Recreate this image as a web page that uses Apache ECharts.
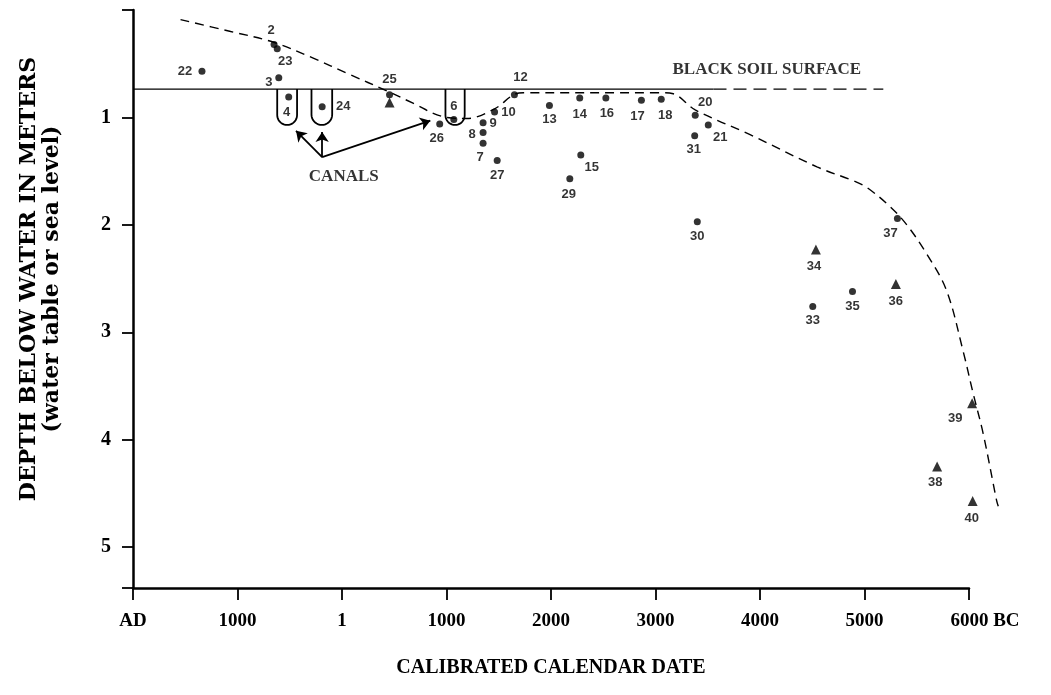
<!DOCTYPE html>
<html>
<head>
<meta charset="utf-8">
<script src="https://cdn.jsdelivr.net/npm/echarts@6/dist/echarts.min.js"></script>
<style>html,body{margin:0;padding:0;background:#fff}#c{width:1051px;height:695px}</style>
</head>
<body>
<div id="c"></div>
<script>
// ---- data ----
var xTicks = [-2000, -1000, 0, 1000, 2000, 3000, 4000, 5000, 6000];
var xTickLabels = ['AD', '1000', '1', '1000', '2000', '3000', '4000', '5000', '6000 BC'];
var yTickLabels = ['', '1', '2', '3', '4', '5'];

var circleIds = ['22','2','23','3','4','24','25','26','6','9','8','7','10','27','12','13','14','15','29','16','17','18','20','21','31','30','37','35','33'];
var circleX   = [-1340,-650,-620,-605,-510,-190,455,935,1070,1350,1350,1350,1460,1485,1650,1985,2275,2285,2180,2525,2865,3055,3380,3505,3375,3400,5315,4885,4505];
var circleY   = [0.57,0.32,0.36,0.63,0.81,0.90,0.79,1.06,1.02,1.05,1.14,1.24,0.95,1.40,0.79,0.89,0.82,1.35,1.57,0.82,0.84,0.83,0.98,1.07,1.17,1.97,1.94,2.62,2.76];

var triIds = ['25','34','36','39','38','40'];
var triX   = [455,4535,5300,6030,5695,6035];
var triY   = [0.86,2.23,2.55,3.66,4.25,4.57];

var curveX = [-1545,-1065,-655,-270,50,445,685,955,1195,1460,1640,1735,3045,3170,3380,3905,4545,4895,5020,5245,5405,5595,5785,5945,6040,6135,6265,6280];
var curveY = [0.09,0.20,0.30,0.45,0.59,0.76,0.87,0.99,1.01,0.92,0.79,0.77,0.77,0.78,0.93,1.16,1.46,1.59,1.65,1.83,2.00,2.27,2.61,3.18,3.57,3.94,4.57,4.62];

var surfaceDepth = 0.736;
var surfaceSolid = [-2000, 3555];
var surfaceDashed = [3555, 5180];

var canalLeft = [-620, -292, 990];
var canalRight = [-430, -94, 1174];
var canalBottom = 1.07;

var arrowFrom = [-190, 1.37];
var arrowTo = [[-440, 1.125], [-190, 1.135], [845, 1.03]];

var canalsText = {text: 'CANALS', x: 17, y: 1.553};
var surfaceText = {text: 'BLACK SOIL SURFACE', x: 4065, y: 0.553};

// ---- layout ----
var W = 1051, GL = 133, GR = 82, GT = 10, GB = 107;
var xMin = -2000, xMax = 6000, xMaxWide = 6400, yMax = 5.38;
var plotW = W - GL - GR;
var wideRight = W - GL - plotW * (xMaxWide - xMin) / (xMax - xMin);

var labelOffset = {
  '22':[-17,0],'2':[-3,-14],'23':[8,13],'3':[-10,5],'4':[-2,15],'24':[21,0],'25':[0,-15],
  '26':[-3,15],'6':[0,-13],'9':[10,1],'8':[-11,2],'7':[-3,14],'10':[14,0],'27':[0,15],
  '12':[6,-17],'13':[0,14],'14':[0,16],'15':[11,12],'29':[-1,16],'16':[1,15],'17':[-4,16],
  '18':[4,16],'20':[10,-13],'21':[12,12],'31':[-1,14],'30':[0,15],'37':[-7,15],'35':[0,15],'33':[0,14],
  't34':[-2,17],'t36':[0,17],'t39':[-17,15],'t38':[-2,16],'t40':[-1,17]
};

var serif = "'Liberation Serif','Times New Roman',serif";
var titleSerif = "'DejaVu Serif','Liberation Serif',serif";
var sans = "'Liberation Sans',Arial,sans-serif";

var circleData = circleIds.map(function (id, i) {
  return {name: id, value: [circleX[i], circleY[i]], label: {offset: labelOffset[id]}};
});
var triData = triIds.map(function (id, i) {
  var off = labelOffset['t' + id];
  return {name: id, value: [triX[i], triY[i]], label: off ? {offset: off} : {show: false}};
});
var curveData = curveX.map(function (x, i) { return [x, curveY[i]]; });
var canalData = canalLeft.map(function (l, i) { return [l, canalRight[i], surfaceDepth, canalBottom]; });
var arrowData = arrowTo.map(function (t) { return {coords: [arrowFrom, t]}; });

var pointLabel = {show: true, position: 'inside', formatter: '{b}', color: '#000', textBorderWidth: 0,
  fontFamily: sans, fontWeight: 'bold', fontSize: 13};

var chart = echarts.init(document.getElementById('c'), null, {renderer: 'canvas'});
chart.setOption({
  backgroundColor: '#fff',
  animation: false,
  grid: [
    {left: GL, right: GR, top: GT, bottom: GB},
    {left: GL, right: wideRight, top: GT, bottom: GB}
  ],
  xAxis: [{
    type: 'value', min: xMin, max: xMax, interval: 1000, gridIndex: 0,
    name: 'CALIBRATED CALENDAR DATE', nameLocation: 'middle', nameGap: 70,
    nameTextStyle: {fontFamily: serif, fontWeight: 'bold', fontSize: 20, color: '#000'},
    axisLine: {show: true, onZero: false, lineStyle: {color: '#000', width: 2.5}},
    axisTick: {show: true, inside: false, length: 12, lineStyle: {color: '#000', width: 1.8}},
    splitLine: {show: false},
    axisLabel: {
      margin: 24, color: '#000', fontFamily: serif, fontWeight: 'bold', fontSize: 19,
      formatter: function (v) {
        var i = xTicks.indexOf(v);
        var t = i >= 0 ? xTickLabels[i] : '';
        if (v === 6000) return '{pad|}' + t;
        return t;
      },
      rich: {pad: {width: 32}}
    }
  }, {
    type: 'value', min: xMin, max: xMaxWide, gridIndex: 1, show: false
  }],
  yAxis: [{
    type: 'value', inverse: true, min: 0, max: yMax, interval: 1, gridIndex: 0,
    name: '{a|DEPTH BELOW WATER IN METERS}\n{b|(water table or sea level)}',
    nameLocation: 'middle', nameGap: 70,
    nameTextStyle: {
      color: '#000', padding: [0, 0, 0, 40],
      rich: {
        a: {fontFamily: titleSerif, fontWeight: 'bold', fontSize: 22, lineHeight: 23, color: '#000'},
        b: {fontFamily: titleSerif, fontWeight: 'bold', fontSize: 22, lineHeight: 22, color: '#000'}
      }
    },
    axisLine: {show: true, onZero: false, lineStyle: {color: '#000', width: 2.5}},
    axisTick: {show: true, inside: false, length: 11, lineStyle: {color: '#000', width: 1.8}},
    splitLine: {show: false},
    axisLabel: {
      margin: 22, color: '#000', fontFamily: serif, fontWeight: 'bold', fontSize: 20,
      formatter: function (v) {
        if (Math.abs(v - Math.round(v)) > 1e-6) return '';
        return yTickLabels[Math.round(v)] || '';
      }
    }
  }, {
    type: 'value', inverse: true, min: 0, max: yMax, gridIndex: 1, show: false
  }],
  series: [
    {
      type: 'line', name: 'surface', data: [[surfaceSolid[0], surfaceDepth], [surfaceSolid[1], surfaceDepth]],
      symbol: 'none', lineStyle: {color: '#000', width: 1.3}, silent: true, z: 1
    },
    {
      type: 'line', name: 'surfaceDashed', data: [[surfaceDashed[0], surfaceDepth], [surfaceDashed[1], surfaceDepth]],
      symbol: 'none', lineStyle: {color: '#000', width: 1.3, type: [13, 7]}, silent: true, z: 1
    },
    {
      type: 'line', name: 'waterCurve', data: curveData, symbol: 'none', smooth: 0.35,
      xAxisIndex: 1, yAxisIndex: 1,
      clip: false, lineStyle: {color: '#000', width: 1.4, type: [9, 6]}, silent: true, z: 2
    },
    {
      type: 'custom', name: 'canals', data: canalData, clip: false, z: 3,
      renderItem: function (params, api) {
        var tl = api.coord([api.value(0), api.value(2)]);
        var br = api.coord([api.value(1), api.value(3)]);
        var r = (br[0] - tl[0]) / 2;
        var cx = tl[0] + r, cy = br[1] - r;
        var pts = [[tl[0], tl[1]], [tl[0], cy]];
        for (var k = 1; k < 18; k++) {
          var a = Math.PI - Math.PI * k / 18;
          pts.push([cx + r * Math.cos(a), cy + r * Math.sin(a)]);
        }
        pts.push([br[0], cy], [br[0], tl[1]]);
        return {type: 'polyline', shape: {points: pts}, style: {stroke: '#000', lineWidth: 1.8, fill: null}};
      }
    },
    {
      type: 'lines', coordinateSystem: 'cartesian2d', name: 'arrows', data: arrowData,
      symbol: ['none', 'arrow'], symbolSize: 10, lineStyle: {color: '#000', width: 1.8, opacity: 1}, z: 3
    },
    {
      type: 'scatter', name: 'circles', data: circleData, symbol: 'circle', symbolSize: 7, clip: false,
      itemStyle: {color: '#000'}, z: 5, label: pointLabel
    },
    {
      type: 'scatter', name: 'triangles', data: triData, symbol: 'triangle', symbolSize: 10, clip: false,
      itemStyle: {color: '#000'}, z: 5, label: pointLabel
    },
    {
      type: 'scatter', name: 'texts', symbolSize: 0, clip: false, silent: true, z: 6,
      itemStyle: {color: '#000'},
      data: [
        {name: canalsText.text, value: [canalsText.x, canalsText.y]},
        {name: surfaceText.text, value: [surfaceText.x, surfaceText.y]}
      ],
      label: {show: true, position: 'inside', formatter: '{b}', color: '#000', textBorderWidth: 0,
        fontFamily: serif, fontWeight: 'bold', fontSize: 17}
    }
  ]
});
</script>
</body>
</html>
